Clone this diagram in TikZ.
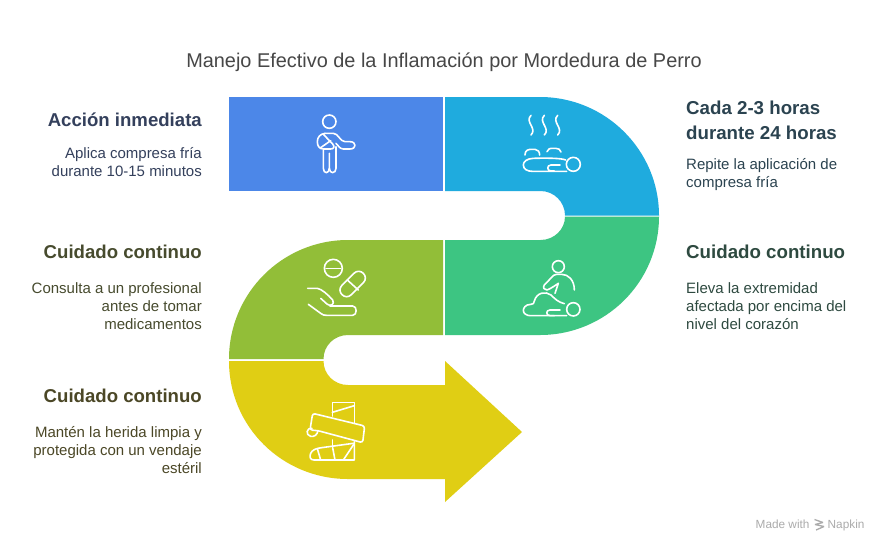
\documentclass[tikz,border=0pt]{standalone}
\usepackage{fontspec}
\setmainfont{Liberation Sans}
\definecolor{cblue}{HTML}{4C87E8}
\definecolor{ccyan}{HTML}{1FABDE}
\definecolor{cgreen}{HTML}{3DC582}
\definecolor{clime}{HTML}{92BE38}
\definecolor{cyell}{HTML}{E0CE14}
\definecolor{tblue}{HTML}{34405C}
\definecolor{tcyan}{HTML}{2B4350}
\definecolor{tgreen}{HTML}{2E4A40}
\definecolor{tlime}{HTML}{474B2E}
\definecolor{tyell}{HTML}{4B4726}
\tikzset{
 ico/.style={draw=white,line width=1.6pt,line cap=round,line join=round,fill=none},
 icon/.style={shift={#1},x=0.3333pt,y=-0.3333pt},
 ttl/.style={inner sep=0pt,anchor=base,text=black!72,font=\fontsize{19.9}{24}\selectfont},
 headl/.style={inner sep=0pt,anchor=north east,align=right,font=\fontsize{18.6}{24.5}\selectfont\bfseries},
 headr/.style={inner sep=0pt,anchor=north west,align=left,font=\fontsize{18.7}{24.5}\selectfont\bfseries},
 bodyl/.style={inner sep=0pt,anchor=north east,align=right,font=\fontsize{15}{18}\selectfont},
 bodyr/.style={inner sep=0pt,anchor=north west,align=left,font=\fontsize{15}{18}\selectfont},
}
\begin{document}
\begin{tikzpicture}[x=1pt,y=-1pt]
\useasboundingbox (0,0) rectangle (888,552);
\fill[white] (0,0) rectangle (888,552);
% segments
\fill[cblue] (229,97) rectangle (443,191);
\fill[ccyan] (445,97) -- (540,97) .. controls (605.7,97) and (659,150.3) .. (659,215.5) -- (565,215.5) .. controls (565,202) and (554,191) .. (540.5,191) -- (445,191) -- cycle;
\fill[cgreen] (445,240) -- (540.5,240) .. controls (554,240) and (565,229.5) .. (565,216.5) -- (659,216.5) .. controls (659,282) and (605.7,335) .. (540,335) -- (445,335) -- cycle;
\fill[clime] (443,240) -- (348,240) .. controls (282.3,240) and (229,293.3) .. (229,359) -- (323.5,359) .. controls (323.5,345.5) and (334.5,335) .. (348,335) -- (443,335) -- cycle;
\fill[cyell] (229,361) -- (323.5,361) .. controls (323.5,374.5) and (334.5,385) .. (348,385) -- (445,385) -- (445,361) -- (522,432) -- (445,502) -- (445,479) -- (348,479) .. controls (282.3,479) and (229,426.7) .. (229,361) -- cycle;
% icon 1: person with sling
\begin{scope}[icon={(290,100)}]
\draw[ico] (118,65) circle[radius=20];
\draw[ico] (100,150) -- (100,205) .. controls (100,222) and (118,222) .. (118,205) -- (118,160);
\draw[ico] (118,205) .. controls (118,222) and (138,222) .. (138,205) -- (138,140);
\draw[ico] (105,100) -- (130,100) .. controls (145,100) and (150,125) .. (165,125) -- (180,125) .. controls (200,125) and (200,147) .. (180,147) -- (160,147) .. controls (148,147) and (145,135) .. (138,130);
\draw[ico] (105,100) .. controls (90,102) and (82,112) .. (82,125) .. controls (82,138) and (88,147) .. (100,147) -- (122,147) .. controls (132,147) and (135,140) .. (128,132) -- (100,103);
\draw[ico] (92,143) -- (122,122);
\end{scope}
% icon 2: heat on body
\begin{scope}[icon={(505,100)}]
\foreach \x in {78,118,158}{
\draw[ico] (\x,46) .. controls (\x-20,66) and (\x+20,85) .. (\x,105);
}
\draw[ico] (60,165) .. controls (60,150) and (70,148) .. (80,148) -- (90,148) .. controls (98,148) and (104,155) .. (104,165);
\draw[ico] (126,155) .. controls (128,146) and (135,145) .. (145,145) -- (152,145) .. controls (160,145) and (166,148) .. (168,156);
\draw[ico] (182,180) .. controls (170,174) and (120,174) .. (85,175) .. controls (65,176) and (55,185) .. (55,195) .. controls (55,208) and (68,214) .. (82,214) -- (185,214);
\draw[ico] (205,193) circle[radius=21];
\draw[ico] (148,213) -- (138,213) .. controls (125,213) and (125,195) .. (138,195) -- (165,195);
\end{scope}
% icon 3: massage
\begin{scope}[icon={(505,245)}]
\draw[ico] (160,65) circle[radius=18];
\draw[ico] (208,135) .. controls (208,105) and (190,88) .. (170,88) -- (155,88) .. controls (148,88) and (145,92) .. (140,97) -- (118,120) .. controls (112,128) and (118,135) .. (126,135) .. controls (135,132) and (150,122) .. (160,115) -- (150,145);
\draw[ico] (178,176) .. controls (160,172) and (148,160) .. (138,150) .. controls (122,138) and (95,142) .. (88,168) .. controls (87,175) and (85,178) .. (78,178) .. controls (60,178) and (55,190) .. (55,197) .. controls (55,205) and (65,212) .. (75,212) -- (185,212);
\draw[ico] (205,193) circle[radius=20];
\draw[ico] (148,212) -- (135,212) .. controls (122,212) and (122,195) .. (135,195) -- (165,195);
\end{scope}
% icon 4: pills and hand
\begin{scope}[icon={(290,245)}]
\draw[ico] (130,70) circle[radius=27];
\draw[ico] (108,71) -- (152,71);
\draw[ico,rotate around={45:(188,117)}] (163,97) -- (213,97) .. controls (240,97) and (240,137) .. (213,137) -- (163,137) .. controls (136,137) and (136,97) .. (163,97) -- cycle;
\draw[ico] (172,105) -- (205,135);
\draw[ico] (53,130) -- (82,130) .. controls (95,132) and (115,150) .. (128,165) .. controls (135,178) and (122,185) .. (112,178) -- (92,160);
\draw[ico] (55,178) -- (92,205) .. controls (98,210) and (102,211) .. (110,211) -- (188,211) .. controls (202,211) and (202,183) .. (188,183) -- (120,183);
\end{scope}
% icon 5: bandage
\begin{scope}[icon={(290,390)}]
\draw[ico] (127,78) -- (127,38) -- (193,38) -- (193,100);
\draw[ico] (127,67) -- (193,47);
\draw[ico,rounded corners=2.5pt] (68,70) -- (224,108) -- (218,158) -- (84,122) -- (60,120) -- cycle;
\draw[ico] (66,115) .. controls (50,112) and (45,135) .. (62,139) .. controls (72,141) and (82,135) .. (84,122);
\draw[ico] (128,150) -- (128,173);
\draw[ico] (193,155) -- (193,210) -- (72,210) .. controls (60,210) and (58,200) .. (62,190) .. controls (66,180) and (78,175) .. (95,173) -- (190,160);
\draw[ico] (82,176) -- (92,210);
\draw[ico] (128,173) -- (135,210);
\draw[ico] (192,162) -- (160,210);
\end{scope}
% texts
\node[ttl] (title) at (444,67) {Manejo Efectivo de la Inflamación por Mordedura de Perro};
\node[headl,text=tblue] (h1) at (202,113) {Acción inmediata};
\node[bodyl,text=tblue] (b1) at (202,147) {Aplica compresa fría\\durante 10-15 minutos};
\node[headr,text=tcyan] (h2) at (686,101) {Cada 2-3 horas\\durante 24 horas};
\node[bodyr,text=tcyan] (b2) at (686,158) {Repite la aplicación de\\compresa fría};
\node[headr,text=tgreen] (h3) at (686,245) {Cuidado continuo};
\node[bodyr,text=tgreen] (b3) at (686,282) {Eleva la extremidad\\afectada por encima del\\nivel del corazón};
\node[headl,text=tlime] (h4) at (202,245) {Cuidado continuo};
\node[bodyl,text=tlime] (b4) at (202,282) {Consulta a un profesional\\antes de tomar\\medicamentos};
\node[headl,text=tyell] (h5) at (202,389) {Cuidado continuo};
\node[bodyl,text=tyell] (b5) at (202,426) {Mantén la herida limpia y\\protegida con un vendaje\\estéril};
% watermark
\node[inner sep=0pt,anchor=base west,text=black!33,font=\fontsize{11.8}{12}\selectfont] (made) at (755.5,528) {Made with};
\node[inner sep=0pt,anchor=base west,text=black!33,font=\fontsize{11.8}{12}\selectfont] (nap) at (827.5,528) {Napkin};
\draw[black!33,line width=1.3pt,line join=bevel] (814.5,519.5) -- (823,522.5) -- (815,524.5) -- (824,526.5) -- (816,530);
\end{tikzpicture}
\end{document}
